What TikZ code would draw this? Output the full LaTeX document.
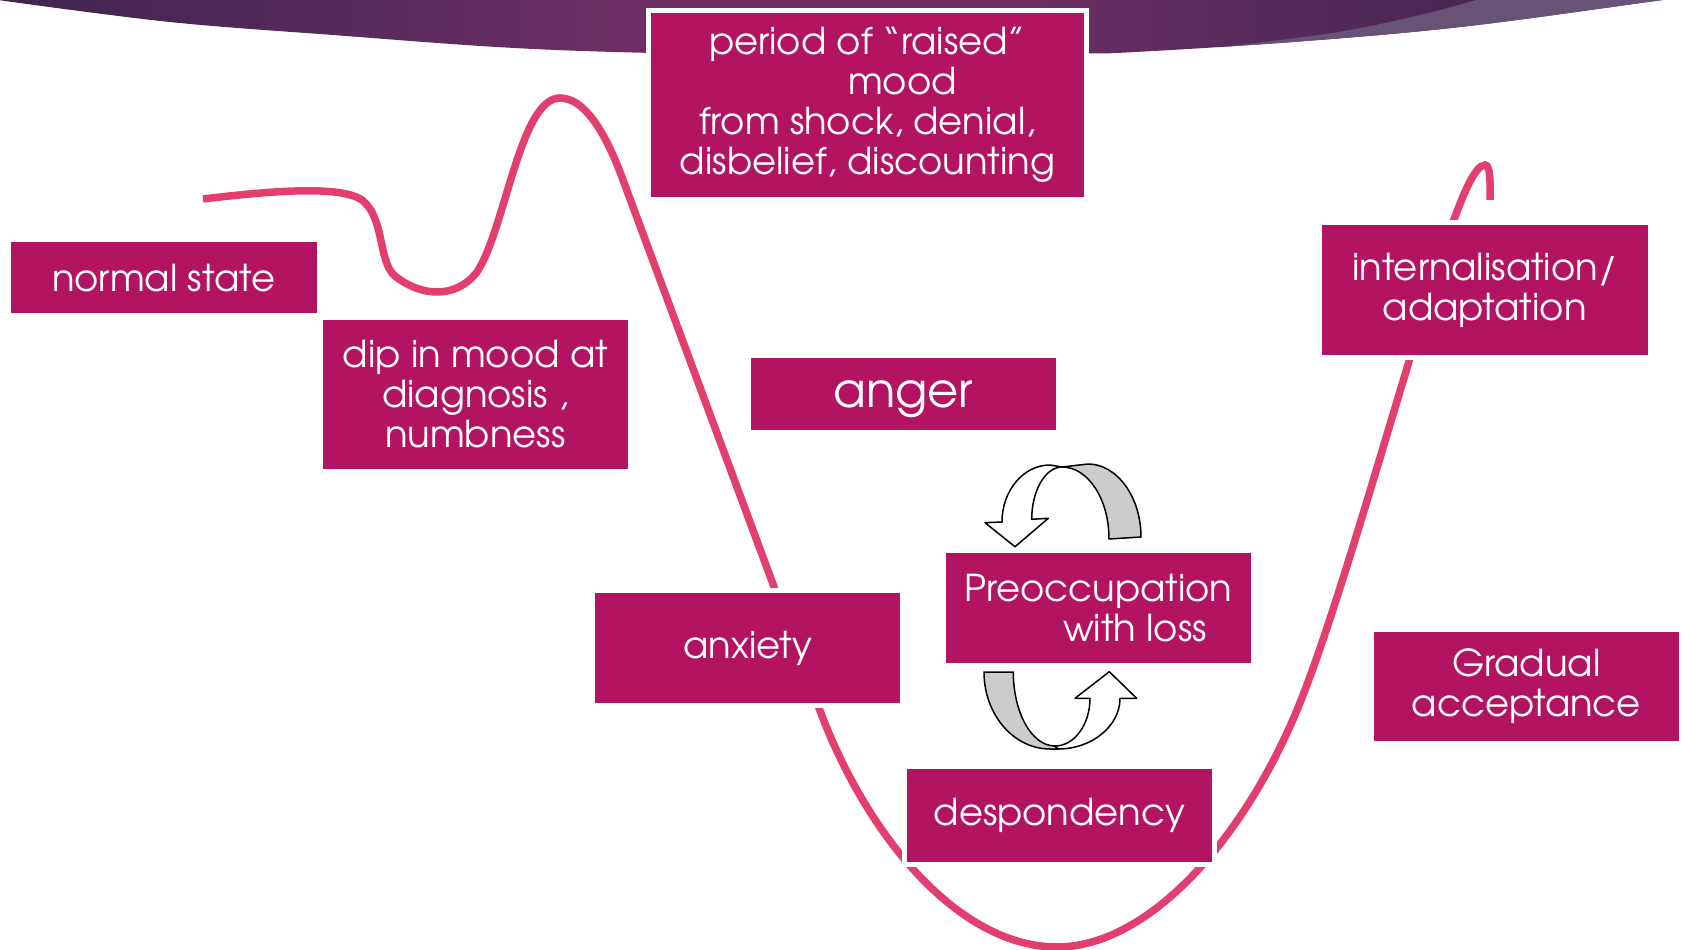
\documentclass[tikz,border=0pt]{standalone}
\usepackage{fontspec}
\IfFontExistsTF{TeX Gyre Adventor}{\setmainfont{TeX Gyre Adventor}}{\setmainfont{Poppins}}
\definecolor{boxpink}{RGB}{179,20,98}
\definecolor{curvepink}{RGB}{226,62,110}
\definecolor{bandL}{RGB}{62,36,80}
\definecolor{bandM}{RGB}{108,47,101}
\definecolor{bandR}{RGB}{62,35,80}
\definecolor{bandlight}{RGB}{102,83,119}
\definecolor{arrowgrey}{RGB}{204,204,204}
\tikzset{
  stagebox/.style={fill=boxpink, draw=white, line width=5pt, text=white, align=center,
    inner sep=0pt, font=\fontsize{37}{40}\selectfont},
  moodcurve/.style={draw=curvepink, line width=7.5pt, line cap=butt},
  arrowpart/.style={draw=black, line width=1.5pt, line join=round},
}
\begin{document}
\begin{tikzpicture}[x=1pt,y=-1pt]
\useasboundingbox (0,0) rectangle (1682,950);
% top band
\def\bandpath{plot[smooth, tension=0.6] coordinates {(-2,0) (167,21.7) (333,35) (520,48.3) (700,54) (880,55.5) (1073,53.5) (1130,52.3) (1297,41.7) (1463,26.7) (1650,1.7) (1684,-3)} -- (1684,-5) -- (-2,-5) -- cycle}
\begin{scope}
  \clip \bandpath;
  \shade[left color=bandL, right color=bandM] (-5,-10) rectangle (620,70);
  \fill[bandM] (619,-10) rectangle (1000,70);
  \shade[left color=bandM, right color=bandR] (999,-10) rectangle (1600,70);
  \fill[bandR] (1599,-10) rectangle (1690,70);
  \fill[bandlight] plot[smooth, tension=0.6] coordinates {(1140,53) (1197,49.5) (1330,33.3) (1420,15) (1483,-2)} -- (1690,-5) -- (1690,60) -- (1140,60) -- cycle;
\end{scope}
% mood curve
\draw[moodcurve] (203,199) .. controls (270,191) and (340,185) .. (362,200)
  .. controls (385,218) and (378,262) .. (395,276)
  .. controls (420,296) and (455,300) .. (477,272)
  .. controls (505,230) and (520,98) .. (560,98)
  .. controls (590,98) and (612,150) .. (623,180)
  -- (819,708)
  .. controls (867,838) and (960,947) .. (1057,947)
  .. controls (1150,947) and (1250,835) .. (1305,690)
  .. controls (1345,585) and (1400,385) .. (1445,245)
  .. controls (1462,195) and (1475,165) .. (1485,165)
  .. controls (1491,165) and (1490,185) .. (1490,200);
% boxes
\node[stagebox, minimum width=310.8pt, minimum height=76pt] (normal) at (163.6,277.6) {normal state};
\node[stagebox, minimum width=309.7pt, minimum height=154pt] (dip) at (475.3,394.3) {dip in mood at\\diagnosis ,\\numbness};
\node[stagebox, minimum width=438pt, minimum height=189pt] (raised) at (867.5,105) {period of “raised”\\\hspace*{70pt}mood\\from shock, denial,\\disbelief, discounting};
\node[stagebox, minimum width=309.5pt, minimum height=76.7pt, font=\fontsize{48}{52}\selectfont, text depth=0pt] (anger) at (903.3,394.2) {anger};
\node[stagebox, minimum width=309.6pt, minimum height=115.3pt] (anxiety) at (747.7,647.9) {anxiety};
\node[stagebox, minimum width=309.7pt, minimum height=114.8pt] (preocc) at (1098.5,608.3) {Preoccupation\\\hspace*{73pt}with loss};
\node[stagebox, minimum width=310pt, minimum height=98pt] (despond) at (1059.5,815.5) {despondency};
\node[stagebox, minimum width=331pt, minimum height=135pt] (internal) at (1484.7,290) {internalisation/\\adaptation};
\node[stagebox, minimum width=309.8pt, minimum height=114.4pt] (gradual) at (1526.4,686.5) {Gradual\\acceptance};
% circular arrows (top)
\filldraw[arrowpart, fill=arrowgrey] (1062,467) -- (1088,464)
  .. controls (1117,464) and (1141,497) .. (1141,537)
  -- (1109,539)
  .. controls (1109,499) and (1088,467) .. (1062,467) -- cycle;
\filldraw[arrowpart, fill=white] (1050,465)
  .. controls (1023.5,465) and (1002,490.5) .. (1002,522)
  -- (985,522.7) -- (1015,546.7) -- (1048.3,518.3) -- (1031.7,519.3)
  .. controls (1031.7,490.6) and (1045.4,467) .. (1062,467) -- cycle;
% circular arrows (bottom)
\filldraw[arrowpart, fill=arrowgrey] (984,672) -- (1013.3,672)
  .. controls (1013.3,712.8) and (1031.8,746) .. (1055,746)
  -- (1058,749) -- (1050,749)
  .. controls (1013.6,749) and (984,714.5) .. (984,672) -- cycle;
\filldraw[arrowpart, fill=white] (1055,746) -- (1058,749)
  .. controls (1092,749) and (1120,726) .. (1120,698.3)
  -- (1136.7,698.3) -- (1109.3,671.7) -- (1075,698.3) -- (1090,698.3)
  .. controls (1090,724.5) and (1074.3,746) .. (1055,746) -- cycle;
\end{tikzpicture}
\end{document}
